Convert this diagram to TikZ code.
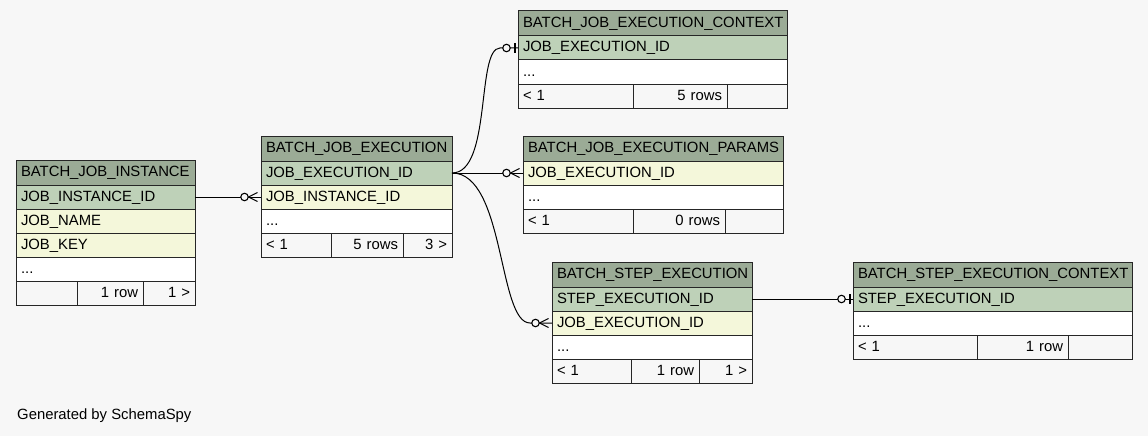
\documentclass[tikz,border=0pt]{standalone}
\usepackage{fontspec}
\setmainfont{Liberation Sans}
\usepackage{xcolor}
\usepackage{tikz}
\usetikzlibrary{positioning, decorations.markings}
\definecolor{bgcol}{HTML}{F7F7F7}
\definecolor{headcol}{HTML}{9BAB96}
\definecolor{keycol}{HTML}{BED1B8}
\definecolor{fkcol}{HTML}{F4F7DA}
\tikzstyle{cell} = [rectangle, draw=black!85, line width=1pt, outer sep=0pt, inner xsep=5pt, inner ysep=0pt, minimum height=24pt, text height=10.5pt, text depth=2.5pt, align=left, font=\fontsize{14.85}{17}\selectfont]
\tikzstyle{head} = [cell, fill=headcol, minimum height=25pt]
\tikzstyle{keyrow} = [cell, fill=keycol]
\tikzstyle{fkrow} = [cell, fill=fkcol]
\tikzstyle{more} = [cell, fill=white]
\tikzstyle{foot} = [cell, fill=bgcol]
\tikzstyle{footnum} = [foot, align=right]
\tikzstyle{link} = [line width=1pt, draw=black]
\tikzstyle{zeromany} = [link, postaction={decorate}, decoration={markings, mark=at position 1 with {
    \draw[line width=1.1pt, fill=bgcol] (-16.5pt,0pt) circle (3.75pt);
    \draw[line width=1.1pt] (-12.5pt,0pt) -- (-3.5pt,4.5pt) (-12.5pt,0pt) -- (-3.5pt,-4.5pt);}}]
\tikzstyle{zeroone} = [link, postaction={decorate}, decoration={markings, mark=at position 1 with {
    \draw[line width=1.1pt, fill=bgcol] (-11.5pt,0pt) circle (3.75pt);
    \draw[line width=2.8pt] (-3pt,-5pt) -- (-3pt,5pt);}}]

\begin{document}
\begin{tikzpicture}[x=1pt, y=-1pt]
	\fill[bgcol] (0,0) rectangle (1148,436);
	\useasboundingbox (0,0) rectangle (1148,436);
	
	% Nodes for BATCH_JOB_INSTANCE
	\begin{scope}[every node/.append style={text width=169pt}]
		\node (inst-h) [head, anchor=north west] at (16,160) {BATCH\_JOB\_INSTANCE};
		\node (inst-pk) [keyrow, below=0pt of inst-h] {JOB\_INSTANCE\_ID};
		\node (inst-name) [fkrow, below=0pt of inst-pk] {JOB\_NAME};
		\node (inst-key) [fkrow, below=0pt of inst-name] {JOB\_KEY};
		\node (inst-more) [more, below=0pt of inst-key] {...};
		\node (inst-f1) [foot, text width=51pt, anchor=north west] at (inst-more.south west) {};
		\node (inst-f2) [footnum, text width=56pt, right=0pt of inst-f1] {1 row};
		\node (inst-f3) [footnum, text width=42pt, right=0pt of inst-f2] {1 >};
	\end{scope}
	
	% Nodes for BATCH_JOB_EXECUTION
	\begin{scope}[every node/.append style={text width=181pt}]
		\node (exe-h) [head, anchor=north west] at (261,136) {BATCH\_JOB\_EXECUTION};
		\node (exe-pk) [keyrow, below=0pt of exe-h] {JOB\_EXECUTION\_ID};
		\node (exe-inst) [fkrow, below=0pt of exe-pk] {JOB\_INSTANCE\_ID};
		\node (exe-more) [more, below=0pt of exe-inst] {...};
		\node (exe-f1) [foot, text width=60pt, anchor=north west] at (exe-more.south west) {< 1};
		\node (exe-f2) [footnum, text width=62pt, right=0pt of exe-f1] {5 rows};
		\node (exe-f3) [footnum, text width=39pt, right=0pt of exe-f2] {3 >};
	\end{scope}
	
	% Nodes for BATCH_JOB_EXECUTION_CONTEXT
	\begin{scope}[every node/.append style={text width=259pt}]
		\node (ctx-h) [head, anchor=north west] at (518,11) {BATCH\_JOB\_EXECUTION\_CONTEXT};
		\node (ctx-pk) [keyrow, below=0pt of ctx-h] {JOB\_EXECUTION\_ID};
		\node (ctx-more) [more, below=0pt of ctx-pk] {...};
		\node (ctx-f1) [foot, text width=105pt, anchor=north west] at (ctx-more.south west) {< 1};
		\node (ctx-f2) [footnum, text width=84pt, right=0pt of ctx-f1] {5 rows};
		\node (ctx-f3) [footnum, text width=50pt, right=0pt of ctx-f2] {};
	\end{scope}
	
	% Nodes for BATCH_JOB_EXECUTION_PARAMS
	\begin{scope}[every node/.append style={text width=250pt}]
		\node (par-h) [head, anchor=north west] at (523,136) {BATCH\_JOB\_EXECUTION\_PARAMS};
		\node (par-fk) [fkrow, below=0pt of par-h] {JOB\_EXECUTION\_ID};
		\node (par-more) [more, below=0pt of par-fk] {...};
		\node (par-f1) [foot, text width=100pt, anchor=north west] at (par-more.south west) {< 1};
		\node (par-f2) [footnum, text width=82pt, right=0pt of par-f1] {0 rows};
		\node (par-f3) [footnum, text width=48pt, right=0pt of par-f2] {};
	\end{scope}
	
	% Nodes for BATCH_STEP_EXECUTION
	\begin{scope}[every node/.append style={text width=190pt}]
		\node (step-h) [head, anchor=north west] at (552,262) {BATCH\_STEP\_EXECUTION};
		\node (step-pk) [keyrow, below=0pt of step-h] {STEP\_EXECUTION\_ID};
		\node (step-fk) [fkrow, below=0pt of step-pk] {JOB\_EXECUTION\_ID};
		\node (step-more) [more, below=0pt of step-fk] {...};
		\node (step-f1) [foot, text width=69pt, anchor=north west] at (step-more.south west) {< 1};
		\node (step-f2) [footnum, text width=58pt, right=0pt of step-f1] {1 row};
		\node (step-f3) [footnum, text width=43pt, right=0pt of step-f2] {1 >};
	\end{scope}
	
	% Nodes for BATCH_STEP_EXECUTION_CONTEXT
	\begin{scope}[every node/.append style={text width=269pt}]
		\node (sctx-h) [head, anchor=north west] at (853,262) {BATCH\_STEP\_EXECUTION\_CONTEXT};
		\node (sctx-pk) [keyrow, below=0pt of sctx-h] {STEP\_EXECUTION\_ID};
		\node (sctx-more) [more, below=0pt of sctx-pk] {...};
		\node (sctx-f1) [foot, text width=114pt, anchor=north west] at (sctx-more.south west) {< 1};
		\node (sctx-f2) [footnum, text width=81pt, right=0pt of sctx-f1] {1 row};
		\node (sctx-f3) [footnum, text width=54pt, right=0pt of sctx-f2] {};
	\end{scope}
	
	% Relationships
	\draw [zeromany] (inst-pk.east) -- (exe-inst.west);
	\draw [zeroone] (exe-pk.east) .. controls +(40,0) and +(-24,0) .. ([xshift=-18pt]ctx-pk.west) -- (ctx-pk.west);
	\draw [zeromany] (exe-pk.east) -- (par-fk.west);
	\draw [zeromany] (exe-pk.east) .. controls +(53,0) and +(-32,0) .. ([xshift=-22pt]step-fk.west) -- (step-fk.west);
	\draw [zeroone] (step-pk.east) -- (sctx-pk.west);
	
	% Label
	\node (gen) [anchor=base west, inner sep=0pt, font=\fontsize{14.85}{17}\selectfont] at (17,419) {Generated by SchemaSpy};
	
\end{tikzpicture}
\end{document}
